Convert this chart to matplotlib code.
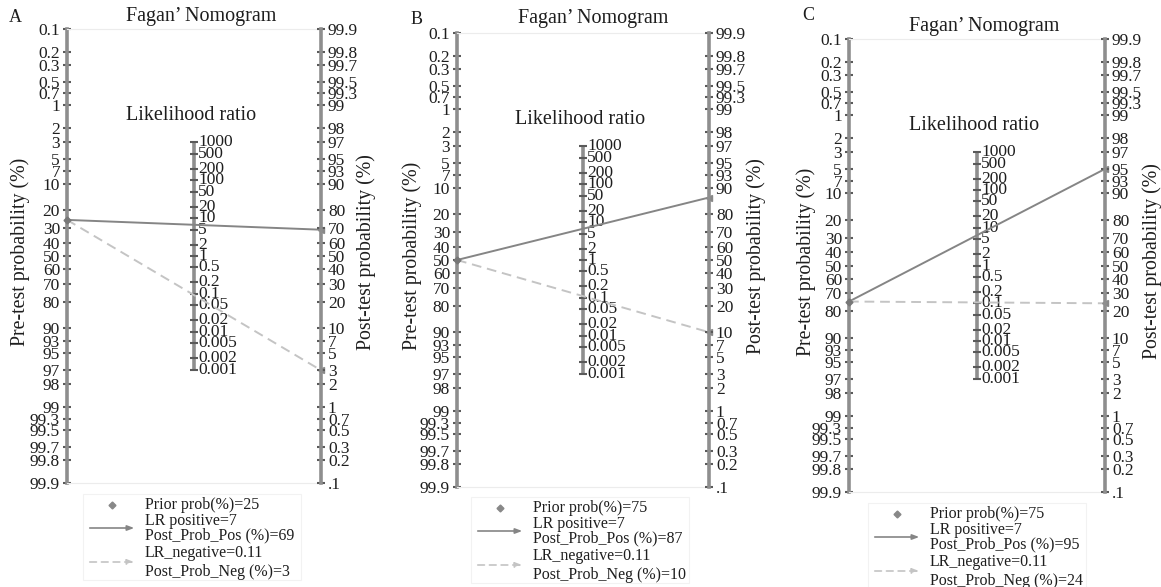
import numpy as np
import matplotlib
matplotlib.use('Agg')
import matplotlib.pyplot as plt
from matplotlib.patches import Rectangle

plt.rcParams['font.family'] = ['Liberation Serif', 'DejaVu Serif']

'''
data read from the three nomograms
'''
panel_names = ['A', 'B', 'C']
prior_plot = [25, 50, 75]          # where the lines start on the left axis
prior_legend = [25, 75, 75]        # what the legend text says
lr_pos = 7
lr_neg = 0.11
post_pos = [69, 87, 95]
post_neg = [3, 10, 24]

pre_ticks = [0.1, 0.2, 0.3, 0.5, 0.7, 1, 2, 3, 5, 7, 10, 20, 30, 40, 50, 60, 70, 80,
             90, 93, 95, 97, 98, 99, 99.3, 99.5, 99.7, 99.8, 99.9]
pre_labels = ['0.1', '0.2', '0.3', '0.5', '0.7', '1', '2', '3', '5', '7', '10', '20', '30', '40',
              '50', '60', '70', '80', '90', '93', '95', '97', '98', '99', '99.3', '99.5', '99.7',
              '99.8', '99.9']
post_ticks = [99.9, 99.8, 99.7, 99.5, 99.3, 99, 98, 97, 95, 93, 90, 80, 70, 60, 50, 40, 30, 20,
              10, 7, 5, 3, 2, 1, 0.7, 0.5, 0.3, 0.2, 0.1]
post_labels = ['99.9', '99.8', '99.7', '99.5', '99.3', '99', '98', '97', '95', '93', '90', '80',
               '70', '60', '50', '40', '30', '20', '10', '7', '5', '3', '2', '1', '0.7', '0.5',
               '0.3', '0.2', '.1']
lr_ticks = [1000, 500, 200, 100, 50, 20, 10, 5, 2, 1, 0.5, 0.2, 0.1, 0.05, 0.02, 0.01, 0.005,
            0.002, 0.001]
lr_labels = ['1000', '500', '200', '100', '50', '20', '10', '5', '2', '1', '0.5', '0.2', '0.1',
             '0.05', '0.02', '0.01', '0.005', '0.002', '0.001']


def logit(p):
    p = np.asarray(p, dtype=float) / 100
    return np.log(p / (1 - p))


# y (downwards) for each scale
def y_pre(p):
    return logit(p)


def y_post(p):
    return -logit(p)


def y_lr(lr):
    return -np.log(np.asarray(lr, dtype=float)) / 2


W, H = 1161, 587
fig = plt.figure(figsize=(W / 100, H / 100), dpi=100)

# pixel boxes of the nomogram (left axis x, right axis x, top y, bottom y)
boxes = [(67, 321, 29, 483), (457, 709, 33, 487), (849, 1105, 39, 492)]
title_pos = [(201, 16), (593, 19), (984, 26)]
letter_pos = [(15, 17), (417, 19), (808, 16)]
ylab_left = [20, 412, 806]
ylab_right = [366, 756, 1152]
# legend anchor: x of arrow start, y of first row
leg_pos = [(87, 505), (475, 508), (872, 514)]

axis_col = '#8e8e8e'
tick_col = '#5a5a5a'
txt_col = '#1e1e1e'
fs = 12.5
fs_leg = 11.5
ymax = float(logit(99.9))

over = fig.add_axes([0, 0, 1, 1], zorder=5)
over.set_xlim(0, W)
over.set_ylim(H, 0)
over.axis('off')

for i in range(3):
    L, R, T, B = boxes[i]
    ax = fig.add_axes([L / W, (H - B) / H, (R - L) / W, (B - T) / H])
    ax.set_xlim(0, 1)
    ax.set_ylim(ymax, -ymax)
    ax.set_xticks([])
    for s in ['top', 'bottom']:
        ax.spines[s].set_color('#ececec')
        ax.spines[s].set_linewidth(0.8)
    ax.spines['left'].set_color(axis_col)
    ax.spines['left'].set_linewidth(2.6)
    ax.spines['right'].set_visible(False)
    ax.set_yticks(y_pre(pre_ticks))
    ax.set_yticklabels(pre_labels)
    ax.tick_params(axis='y', direction='inout', length=6, width=1.5, color=tick_col,
                   labelsize=fs, labelcolor=txt_col, pad=2)

    ax2 = ax.twinx()
    ax2.set_ylim(ymax, -ymax)
    for s in ['top', 'bottom', 'left']:
        ax2.spines[s].set_visible(False)
    ax2.spines['right'].set_color(axis_col)
    ax2.spines['right'].set_linewidth(2.6)
    ax2.set_yticks(y_post(post_ticks))
    ax2.set_yticklabels(post_labels)
    ax2.tick_params(axis='y', direction='inout', length=6, width=1.5, color=tick_col,
                    labelsize=fs, labelcolor=txt_col, pad=2)

    # middle likelihood ratio scale
    ylr = y_lr(lr_ticks)
    ax.plot([0.5, 0.5], [ylr[0], ylr[-1]], color=axis_col, lw=2.6, solid_capstyle='butt')
    ax.plot(np.full(len(ylr), 0.5), ylr, ls='none', marker='_', ms=6, mew=1.5, color=tick_col)
    for yy, lab in zip(ylr, lr_labels):
        ax.annotate(lab, (0.5, yy), xytext=(3, 0), textcoords='offset points',
                    ha='left', va='center', fontsize=fs, color=txt_col)
    ax.text(0.49, 0.81, 'Likelihood ratio', transform=ax.transAxes, ha='center',
            va='center', fontsize=14.5, color=txt_col)

    # nomogram lines
    y0 = y_pre(prior_plot[i])
    ax.plot([0, 1], [y0, y_post(post_pos[i])], color='#858585', lw=1.4, clip_on=False, zorder=4)
    ax.plot([0, 1], [y0, y_post(post_neg[i])], color='#c4c4c4', lw=1.4, ls=(0, (5, 3)),
            clip_on=False, zorder=4)
    ax.plot([0], [y0], marker='D', ms=3.5, color='#777777', clip_on=False, zorder=5)
    ax.plot([1, 1], [y_post(post_pos[i]), y_post(post_neg[i])], ls='none', marker='<', ms=4,
            color='#888888', clip_on=False, zorder=5)

    # texts in figure pixels
    over.text(title_pos[i][0], title_pos[i][1], 'Fagan\u2019 Nomogram', ha='center',
              va='center', fontsize=14.5, color=txt_col)
    over.text(letter_pos[i][0], letter_pos[i][1], panel_names[i], ha='center', va='center',
              fontsize=13, color=txt_col)
    ymid = (T + B) / 2 - 4
    over.text(ylab_left[i], ymid, 'Pre-test probability (%)', rotation=90, ha='center',
              va='center', fontsize=14.3, color=txt_col)
    over.text(ylab_right[i], ymid, 'Post-test probability (%)', rotation=90, ha='center',
              va='center', fontsize=14.3, color=txt_col)

    # legend
    lx, ly = leg_pos[i]
    over.add_patch(Rectangle((lx - 4, ly - 11), 218, 86, fill=False, ec='#f2f2f2', lw=0.8))
    over.plot([lx + 25], [ly], marker='D', ms=3.5, color='#888888')
    over.annotate('', xy=(lx + 50, ly + 23), xytext=(lx, ly + 23),
                  arrowprops=dict(arrowstyle='-|>,head_length=0.4,head_width=0.15',
                                  color='#858585', lw=1.2))
    over.annotate('', xy=(lx + 50, ly + 57), xytext=(lx, ly + 57),
                  arrowprops=dict(arrowstyle='-|>,head_length=0.4,head_width=0.15',
                                  color='#c4c4c4', lw=1.2, ls=(0, (4, 3))))
    tx = lx + 58
    over.text(tx, ly, 'Prior prob(%%)=%d' % prior_legend[i], ha='left', va='center',
              fontsize=fs_leg, color=txt_col)
    over.text(tx, ly + 16, 'LR positive=%g' % lr_pos, ha='left', va='center', fontsize=fs_leg,
              color=txt_col)
    over.text(tx, ly + 30, 'Post_Prob_Pos (%%)=%d' % post_pos[i], ha='left', va='center',
              fontsize=fs_leg, color=txt_col)
    over.text(tx, ly + 48, 'LR_negative=%g' % lr_neg, ha='left', va='center', fontsize=fs_leg,
              color=txt_col)
    over.text(tx, ly + 67, 'Post_Prob_Neg (%%)=%d' % post_neg[i], ha='left', va='center',
              fontsize=fs_leg, color=txt_col)

fig.savefig('out.png', dpi=100)
